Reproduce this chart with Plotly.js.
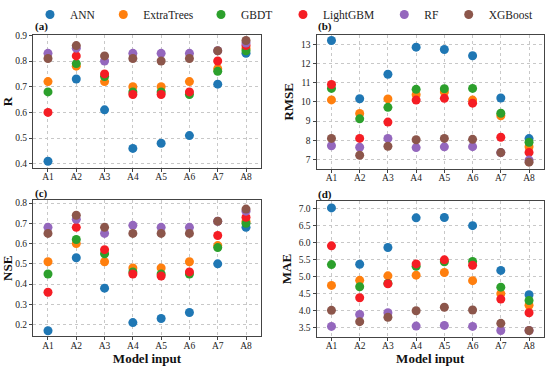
<!DOCTYPE html>
<html>
<head>
<meta charset="utf-8">
<script src="https://cdn.plot.ly/plotly-3.0.1.min.js"></script>
<style>html,body{margin:0;padding:0;background:#fff;}#chart{width:550px;height:367px;}</style>
</head>
<body>
<div id="chart"></div>
<script>
const categories = ["A1","A2","A3","A4","A5","A6","A7","A8"];
const models = ["ANN","ExtraTrees","GBDT","LightGBM","RF","XGBoost"];
const colors = ["#1f77b4","#ff7f0e","#2ca02c","#f51d24","#9467bd","#8c564b"];

// R
const R_ANN        = [0.41,0.73,0.61,0.46,0.48,0.51,0.71,0.83];
const R_ExtraTrees = [0.72,0.78,0.72,0.70,0.70,0.72,0.77,0.85];
const R_GBDT       = [0.68,0.79,0.74,0.68,0.68,0.67,0.76,0.84];
const R_LightGBM   = [0.60,0.82,0.75,0.67,0.67,0.68,0.80,0.86];
const R_RF         = [0.83,0.85,0.80,0.83,0.83,0.83,0.84,0.87];
const R_XGBoost    = [0.81,0.86,0.82,0.81,0.80,0.81,0.84,0.88];

// RMSE
const RMSE_ANN        = [13.21,10.17,11.45,12.86,12.74,12.41,10.21,8.09];
const RMSE_ExtraTrees = [10.11,9.40,10.16,10.38,10.52,10.10,9.28,7.67];
const RMSE_GBDT       = [10.71,9.12,9.72,10.66,10.69,10.71,9.41,7.90];
const RMSE_LightGBM   = [10.91,8.10,8.95,10.10,10.19,9.94,8.16,7.37];
const RMSE_RF         = [7.72,7.64,8.10,7.62,7.66,7.67,7.36,6.97];
const RMSE_XGBoost    = [8.10,7.22,7.69,8.03,8.10,8.05,7.36,6.86];

// NSE
const NSE_ANN        = [0.17,0.53,0.38,0.21,0.23,0.26,0.50,0.68];
const NSE_ExtraTrees = [0.51,0.60,0.51,0.48,0.48,0.51,0.59,0.71];
const NSE_GBDT       = [0.45,0.62,0.55,0.46,0.45,0.45,0.58,0.70];
const NSE_LightGBM   = [0.36,0.68,0.57,0.45,0.44,0.46,0.64,0.73];
const NSE_RF         = [0.68,0.72,0.65,0.69,0.68,0.68,0.71,0.76];
const NSE_XGBoost    = [0.65,0.74,0.68,0.65,0.65,0.65,0.71,0.77];

// MAE
const MAE_ANN        = [7.01,5.36,5.85,6.72,6.73,6.49,5.18,4.47];
const MAE_ExtraTrees = [4.74,4.89,5.02,5.04,5.12,4.88,4.50,4.16];
const MAE_GBDT       = [5.35,4.70,4.80,5.30,5.43,5.44,4.69,4.30];
const MAE_LightGBM   = [5.90,4.38,4.79,5.37,5.49,5.33,4.34,3.94];
const MAE_RF         = [3.54,3.89,3.94,3.55,3.57,3.54,3.42,3.42];
const MAE_XGBoost    = [4.01,3.68,3.81,4.00,4.10,4.02,3.63,3.42];

const panels = [
  {sets:[R_ANN,R_ExtraTrees,R_GBDT,R_LightGBM,R_RF,R_XGBoost], xa:"x", ya:"y"},
  {sets:[RMSE_ANN,RMSE_ExtraTrees,RMSE_GBDT,RMSE_LightGBM,RMSE_RF,RMSE_XGBoost], xa:"x2", ya:"y2"},
  {sets:[NSE_ANN,NSE_ExtraTrees,NSE_GBDT,NSE_LightGBM,NSE_RF,NSE_XGBoost], xa:"x3", ya:"y3"},
  {sets:[MAE_ANN,MAE_ExtraTrees,MAE_GBDT,MAE_LightGBM,MAE_RF,MAE_XGBoost], xa:"x4", ya:"y4"}
];

const legendNames = ["legend","legend2","legend3","legend4","legend5","legend6"];
const traces = [];
panels.forEach((p, pi) => {
  p.sets.forEach((vals, mi) => {
    traces.push({
      type: "scatter", mode: "markers",
      x: categories, y: vals,
      xaxis: p.xa, yaxis: p.ya,
      name: models[mi], legendgroup: models[mi],
      legend: legendNames[mi],
      showlegend: pi === 0,
      marker: {color: colors[mi], size: 9}
    });
  });
});

const FONT = "Liberation Serif";
const W = 550, H = 367;
function xd(a,b){return [a/W, b/W];}
function yd(top,bot){return [1-bot/H, 1-top/H];}

function xax(dom, anchor, showTitle){
  const o = {
    domain: dom, anchor: anchor, type: "category",
    range: [-0.53, 7.53],
    showline: true, mirror: true, linecolor: "#444", linewidth: 1,
    ticks: "outside", ticklen: 3, tickcolor: "#444",
    ticklabelstandoff: -3,
    showgrid: true, gridcolor: "#c8c8c8", griddash: "dot", gridwidth: 1,
    tickfont: {family: FONT, size: 9.5, color: "#222"},
    zeroline: false
  };
  if (showTitle) o.title = {text: "<b>Model input</b>", font: {family: FONT, size: 13, color: "#111"}, standoff: 3};
  return o;
}
function yax(dom, anchor, range, dtick, fmt, title){
  return {
    domain: dom, anchor: anchor, range: range, dtick: dtick, tickformat: fmt,
    showline: true, mirror: true, linecolor: "#444", linewidth: 1,
    ticks: "outside", ticklen: 3, tickcolor: "#444",
    showgrid: true, gridcolor: "#c8c8c8", griddash: "dot", gridwidth: 1,
    tickfont: {family: FONT, size: 9.5, color: "#222"},
    zeroline: false,
    title: {text: "<b>"+title+"</b>", font: {family: FONT, size: 13, color: "#111"}, standoff: 4}
  };
}

const legendMarkerX = [49, 122.3, 220, 302, 403.3, 467.7];
function legendAt(px){
  return {orientation: "h", x: (px-19)/W, xanchor: "left", y: 1 + 2/H, yanchor: "top",
          font: {family: FONT, size: 11.5, color: "#222"}, bgcolor: "rgba(0,0,0,0)"};
}

const layout = {
  width: W, height: H,
  margin: {l:0, r:0, t:0, b:0},
  paper_bgcolor: "#fff", plot_bgcolor: "#fff",
  showlegend: true,
  xaxis:  xax(xd(33,261), "y", false),
  yaxis:  yax(yd(33,167), "x", [0.3835,0.902], 0.1, ".1f", "R"),
  xaxis2: xax(xd(316.5,544), "y2", false),
  yaxis2: yax(yd(32.7,168), "x2", [6.5,13.52], 1, "d", "RMSE"),
  xaxis3: xax(xd(33,261), "y3", true),
  yaxis3: yax(yd(199.5,336), "x3", [0.143,0.813], 0.1, ".1f", "NSE"),
  xaxis4: xax(xd(316.5,544), "y4", true),
  yaxis4: yax(yd(200.5,336.5), "x4", [3.24,7.2], 0.5, ".1f", "MAE"),
  annotations: [
    {text:"<b>(a)</b>", x:33/W, y:1-25/H, xref:"paper", yref:"paper", xanchor:"left", yanchor:"middle", showarrow:false, font:{family:FONT,size:11,color:"#111"}},
    {text:"<b>(b)</b>", x:316/W, y:1-25/H, xref:"paper", yref:"paper", xanchor:"left", yanchor:"middle", showarrow:false, font:{family:FONT,size:11,color:"#111"}},
    {text:"<b>(c)</b>", x:33/W, y:1-193/H, xref:"paper", yref:"paper", xanchor:"left", yanchor:"middle", showarrow:false, font:{family:FONT,size:11,color:"#111"}},
    {text:"<b>(d)</b>", x:316/W, y:1-194/H, xref:"paper", yref:"paper", xanchor:"left", yanchor:"middle", showarrow:false, font:{family:FONT,size:11,color:"#111"}}
  ]
};
legendNames.forEach((ln, i) => { layout[ln] = legendAt(legendMarkerX[i]); });

Plotly.newPlot("chart", traces, layout, {displayModeBar: false, staticPlot: true});
</script>
</body>
</html>
